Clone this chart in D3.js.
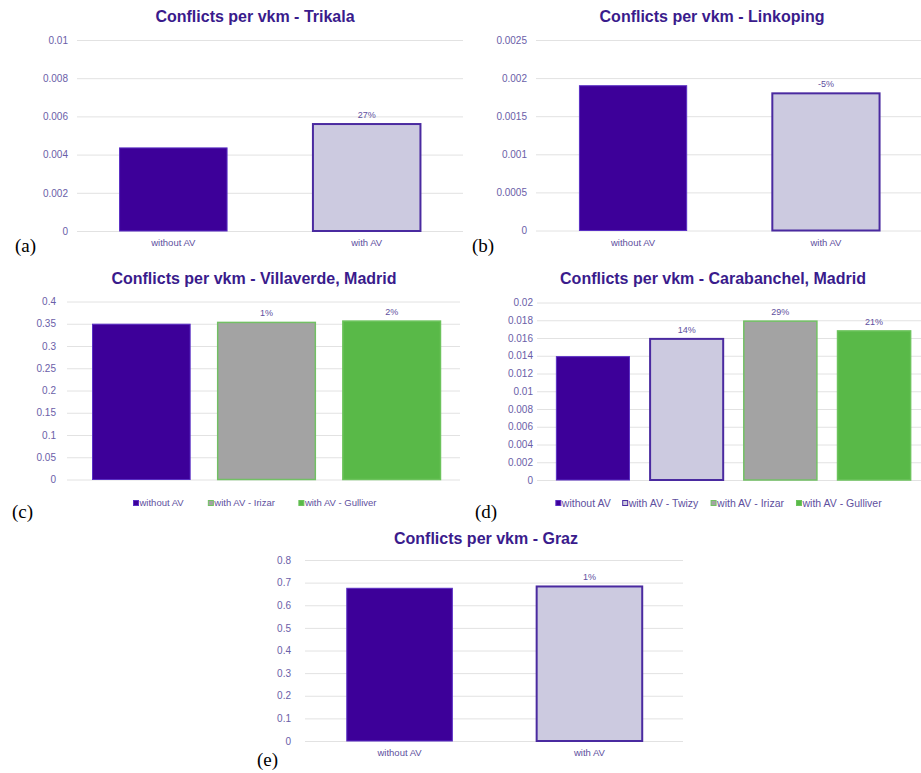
<!DOCTYPE html>
<html>
<head>
<meta charset="utf-8">
<script src="https://cdn.jsdelivr.net/npm/d3@7"></script>
<style>
  body { margin: 0; background: #ffffff; }
  svg { display: block; }
</style>
</head>
<body>
<svg id="chart" width="921" height="773"></svg>
<script>
// ---- Conflicts per vehicle-km, per pilot site ----

// (a) Trikala
const trikalaCategories = ["without AV", "with AV"];
const trikalaValues = [0.00435, 0.0056];
const trikalaChanges = [null, "27%"];
const trikalaTicks = [0, 0.002, 0.004, 0.006, 0.008, 0.01];

// (b) Linkoping
const linkopingCategories = ["without AV", "with AV"];
const linkopingValues = [0.0019, 0.0018];
const linkopingChanges = [null, "-5%"];
const linkopingTicks = [0, 0.0005, 0.001, 0.0015, 0.002, 0.0025];

// (c) Villaverde, Madrid
const villaverdeCategories = ["without AV", "with AV - Irizar", "with AV - Gulliver"];
const villaverdeValues = [0.349, 0.353, 0.356];
const villaverdeChanges = [null, "1%", "2%"];
const villaverdeTicks = [0, 0.05, 0.1, 0.15, 0.2, 0.25, 0.3, 0.35, 0.4];

// (d) Carabanchel, Madrid
const carabanchelCategories = ["without AV", "with AV - Twizy", "with AV - Irizar", "with AV - Gulliver"];
const carabanchelValues = [0.0139, 0.0159, 0.0179, 0.0168];
const carabanchelChanges = [null, "14%", "29%", "21%"];
const carabanchelTicks = [0, 0.002, 0.004, 0.006, 0.008, 0.01, 0.012, 0.014, 0.016, 0.018, 0.02];

// (e) Graz
const grazCategories = ["without AV", "with AV"];
const grazValues = [0.675, 0.683];
const grazChanges = [null, "1%"];
const grazTicks = [0, 0.1, 0.2, 0.3, 0.4, 0.5, 0.6, 0.7, 0.8];

// ---- styling ----
const SANS = "'Liberation Sans', Arial, Helvetica, sans-serif";
const SERIF = "'Liberation Serif', 'Times New Roman', serif";
const TITLE_COLOR = "#3a1b8c";
const TEXT_COLOR = "#5e4f9e";
const TICK_COLOR = "#6a5ea8";
const GRID_COLOR = "#e2e2e2";

const barStyle = {
  "without AV":         { fill: "#3d0099", stroke: "#5a2fc4", width: 1 },
  "with AV":            { fill: "#cccae0", stroke: "#4a2aa0", width: 2 },
  "with AV - Twizy":    { fill: "#cccae0", stroke: "#4a2aa0", width: 2 },
  "with AV - Irizar":   { fill: "#a3a3a3", stroke: "#72c064", width: 1.5 },
  "with AV - Gulliver": { fill: "#59b948", stroke: "#6cc35c", width: 1.5 }
};

const fmt = v => String(+v.toPrecision(6));

const svg = d3.select("#chart");

function drawPanel(p) {
  const g = svg.append("g");

  const y = d3.scaleLinear()
    .domain([0, d3.max(p.ticks)])
    .range([p.bottom, p.top]);

  const x = d3.scaleBand()
    .domain(p.categories)
    .range([p.bx0, p.bx1])
    .paddingInner(p.pi)
    .paddingOuter(p.po);

  // value axis with full-width gridlines
  const axis = d3.axisLeft(y)
    .tickValues(p.ticks)
    .tickSize(-(p.gx1 - p.gx0))
    .tickPadding(p.gx0 - p.lx)
    .tickFormat(fmt);

  const ag = g.append("g")
    .attr("transform", `translate(${p.gx0},0)`)
    .call(axis);
  ag.select(".domain").remove();
  ag.selectAll(".tick line").attr("stroke", GRID_COLOR).attr("stroke-width", 1);
  ag.selectAll(".tick text")
    .attr("fill", TICK_COLOR)
    .style("font-family", SANS)
    .style("font-size", "10px");

  const rows = p.categories.map((c, i) => ({ cat: c, value: p.values[i], change: p.changes[i] }));

  // bars
  g.selectAll("rect.bar")
    .data(rows)
    .join("rect")
    .attr("class", "bar")
    .attr("x", d => x(d.cat))
    .attr("width", x.bandwidth())
    .attr("y", d => y(d.value))
    .attr("height", d => y(0) - y(d.value))
    .attr("fill", d => barStyle[d.cat].fill)
    .attr("stroke", d => barStyle[d.cat].stroke)
    .attr("stroke-width", d => barStyle[d.cat].width);

  // change labels above bars
  g.selectAll("text.change")
    .data(rows.filter(d => d.change))
    .join("text")
    .attr("class", "change")
    .attr("x", d => x(d.cat) + x.bandwidth() / 2)
    .attr("y", d => y(d.value) - 6)
    .attr("text-anchor", "middle")
    .attr("fill", TEXT_COLOR)
    .style("font-family", SANS)
    .style("font-size", "9px")
    .text(d => d.change);

  // category labels under the bars, or a legend row
  if (!p.legend) {
    g.selectAll("text.cat")
      .data(rows)
      .join("text")
      .attr("class", "cat")
      .attr("x", d => x(d.cat) + x.bandwidth() / 2)
      .attr("y", p.bottom + 15)
      .attr("text-anchor", "middle")
      .attr("fill", TEXT_COLOR)
      .style("font-family", SANS)
      .style("font-size", "9.5px")
      .text(d => d.cat);
  } else {
    const lg = g.append("g");
    const items = lg.selectAll("g.item")
      .data(p.categories)
      .join("g")
      .attr("class", "item");
    items.append("rect")
      .attr("width", 5).attr("height", 5)
      .attr("y", -2.5)
      .attr("fill", d => barStyle[d].fill)
      .attr("stroke", d => barStyle[d].stroke)
      .attr("stroke-width", 1);
    items.append("text")
      .attr("x", 6)
      .attr("dy", "0.35em")
      .attr("fill", TEXT_COLOR)
      .style("font-family", SANS)
      .style("font-size", p.legendFont)
      .text(d => d);
    // lay items out in a row centred under the plot
    let cx = 0;
    items.each(function () {
      const w = this.getBBox().width;
      d3.select(this).attr("transform", `translate(${cx},0)`);
      cx += w + p.legendGap;
    });
    const total = cx - p.legendGap;
    lg.attr("transform", `translate(${p.legendCx - total / 2},${p.legendY})`);
  }

  // title
  g.append("text")
    .attr("x", p.titleX)
    .attr("y", p.titleY)
    .attr("text-anchor", "middle")
    .attr("fill", TITLE_COLOR)
    .style("font-family", SANS)
    .style("font-weight", "bold")
    .style("font-size", "16px")
    .text(p.title);

  // panel letter
  g.append("text")
    .attr("x", p.letterX)
    .attr("y", p.letterY)
    .attr("fill", "#000000")
    .style("font-family", SERIF)
    .style("font-size", "19px")
    .text(p.letter);
}

drawPanel({
  title: "Conflicts per vkm - Trikala", letter: "(a)",
  categories: trikalaCategories, values: trikalaValues, changes: trikalaChanges, ticks: trikalaTicks,
  top: 40, bottom: 231, gx0: 77, gx1: 463, bx0: 77, bx1: 463, pi: 0.444, po: 0.22, lx: 68,
  titleX: 255, titleY: 22, letterX: 15, letterY: 252
});

drawPanel({
  title: "Conflicts per vkm - Linkoping", letter: "(b)",
  categories: linkopingCategories, values: linkopingValues, changes: linkopingChanges, ticks: linkopingTicks,
  top: 40, bottom: 230.5, gx0: 536, gx1: 921, bx0: 537, bx1: 922, pi: 0.444, po: 0.22, lx: 527,
  titleX: 712, titleY: 22, letterX: 472, letterY: 252
});

drawPanel({
  title: "Conflicts per vkm - Villaverde, Madrid", letter: "(c)",
  categories: villaverdeCategories, values: villaverdeValues, changes: villaverdeChanges, ticks: villaverdeTicks,
  top: 301.5, bottom: 479.5, gx0: 67, gx1: 460, bx0: 80, bx1: 453, pi: 0.22, po: 0.1, lx: 56,
  titleX: 254, titleY: 284, letterX: 12, letterY: 518,
  legend: true, legendCx: 255, legendY: 503, legendFont: "9.5px", legendGap: 24
});

drawPanel({
  title: "Conflicts per vkm - Carabanchel, Madrid", letter: "(d)",
  categories: carabanchelCategories, values: carabanchelValues, changes: carabanchelChanges, ticks: carabanchelTicks,
  top: 302.5, bottom: 480, gx0: 537, gx1: 921, bx0: 547, bx1: 920, pi: 0.22, po: 0.1, lx: 533,
  titleX: 713, titleY: 284, letterX: 475, letterY: 518,
  legend: true, legendCx: 719, legendY: 503, legendFont: "10.5px", legendGap: 12
});

drawPanel({
  title: "Conflicts per vkm - Graz", letter: "(e)",
  categories: grazCategories, values: grazValues, changes: grazChanges, ticks: grazTicks,
  top: 560, bottom: 741, gx0: 305, gx1: 683, bx0: 305, bx1: 684, pi: 0.444, po: 0.22, lx: 291,
  titleX: 486, titleY: 544, letterX: 257, letterY: 766
});
</script>
</body>
</html>
